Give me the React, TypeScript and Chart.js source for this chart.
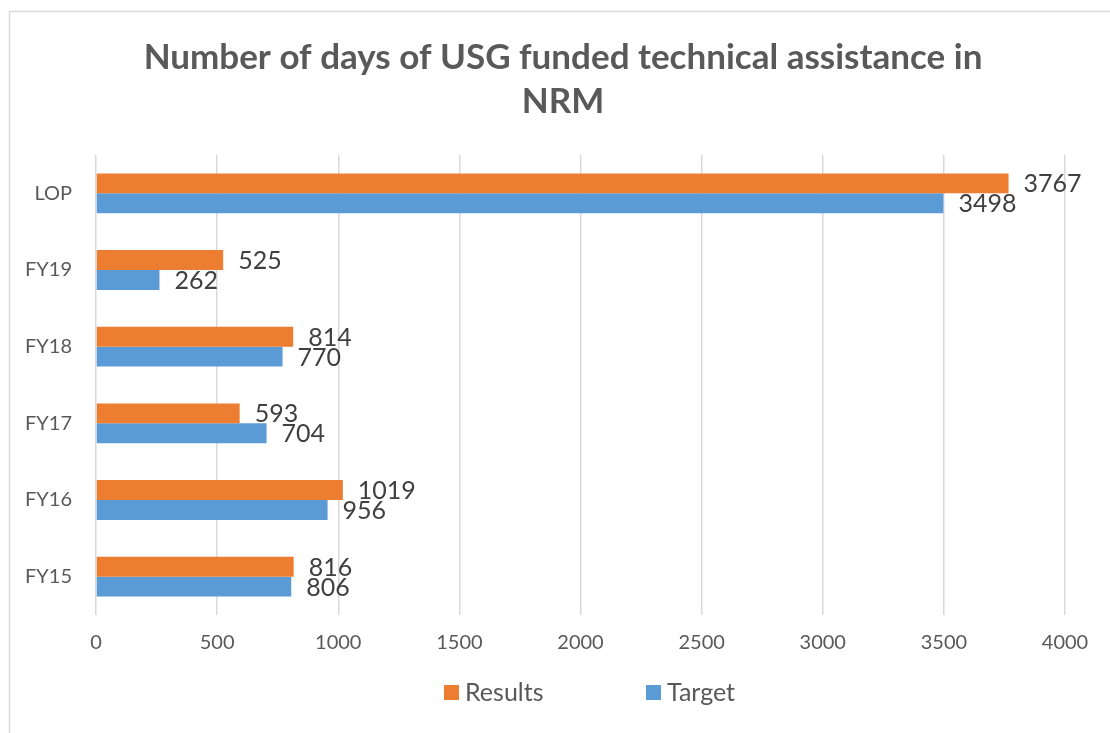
import React, { useEffect, useRef } from "react";
import { Chart, registerables } from "chart.js";

Chart.register(...registerables);

const categories = ["LOP", "FY19", "FY18", "FY17", "FY16", "FY15"];
const resultsValues = [3767, 525, 814, 593, 1019, 816];
const targetValues = [3498, 262, 770, 704, 956, 806];
const seriesNames = ["Results", "Target"];
const seriesColors = ["#ED7D31", "#5B9BD5"];
const titleLines = ["Number of days of USG funded technical assistance in", "NRM"];
const xMin = 0;
const xMax = 4000;
const xStep = 500;

const FONT = "Lato, 'Open Sans', 'DejaVu Sans', sans-serif";

const decorPlugin = {
  id: "decor",
  beforeDraw(chart: any) {
    const { ctx, width, height } = chart;
    ctx.save();
    ctx.fillStyle = "#ffffff";
    ctx.fillRect(0, 0, width, height);
    ctx.strokeStyle = "#d9d9d9";
    ctx.lineWidth = 1.5;
    ctx.beginPath();
    ctx.moveTo(9.5, height);
    ctx.lineTo(9.5, 11.5);
    ctx.lineTo(width, 11.5);
    ctx.stroke();
    ctx.restore();
  },
  afterDraw(chart: any) {
    const { ctx } = chart;
    ctx.save();
    // title
    ctx.fillStyle = "#595959";
    ctx.font = `bold 35px ${FONT}`;
    ctx.textAlign = "center";
    ctx.textBaseline = "middle";
    titleLines.forEach((line, i) => ctx.fillText(line, 563, 58 + i * 44));
    // legend
    ctx.font = `25px ${FONT}`;
    ctx.textAlign = "left";
    const legendX = [444, 646];
    seriesNames.forEach((name, i) => {
      ctx.fillStyle = seriesColors[i];
      ctx.fillRect(legendX[i], 685, 15, 15);
      ctx.fillStyle = "#595959";
      ctx.fillText(name, legendX[i] + 21, 693);
    });
    ctx.restore();
  },
  afterDatasetsDraw(chart: any) {
    const { ctx } = chart;
    ctx.save();
    ctx.fillStyle = "#404040";
    ctx.font = `25px ${FONT}`;
    ctx.textAlign = "left";
    ctx.textBaseline = "middle";
    chart.data.datasets.forEach((ds: any, di: number) => {
      const meta = chart.getDatasetMeta(di);
      meta.data.forEach((el: any, i: number) => {
        ctx.fillText(String(ds.data[i]), el.x + 15, el.y + 1);
      });
    });
    ctx.restore();
  },
};

export default function App() {
  const ref = useRef<HTMLCanvasElement | null>(null);
  useEffect(() => {
    if (!ref.current) return;
    const chart = new Chart(ref.current, {
      type: "bar",
      data: {
        labels: categories,
        datasets: [
          {
            label: seriesNames[0],
            data: resultsValues,
            backgroundColor: seriesColors[0],
            borderWidth: 0,
            barPercentage: 1,
            categoryPercentage: 0.52,
          },
          {
            label: seriesNames[1],
            data: targetValues,
            backgroundColor: seriesColors[1],
            borderWidth: 0,
            barPercentage: 1,
            categoryPercentage: 0.52,
          },
        ],
      },
      options: {
        indexAxis: "y",
        animation: false,
        responsive: false,
        maintainAspectRatio: false,
        layout: { padding: { top: 155, right: 45, left: 0, bottom: 0 } },
        plugins: {
          legend: { display: false },
          title: { display: false },
          tooltip: { enabled: false },
        },
        scales: {
          x: {
            min: xMin,
            max: xMax,
            ticks: {
              stepSize: xStep,
              color: "#595959",
              font: { family: FONT, size: 20 },
              padding: 16,
              callback: (v: any) => String(v),
            },
            grid: { color: "#d9d9d9", lineWidth: 1.5, drawTicks: false },
            border: { display: false },
            afterFit: (scale: any) => {
              scale.height = 118;
            },
          },
          y: {
            ticks: {
              color: "#595959",
              font: { family: FONT, size: 20 },
              padding: 24,
            },
            grid: { display: false, drawTicks: false },
            border: { display: false },
            afterFit: (scale: any) => {
              scale.width = 96;
            },
          },
        },
      },
      plugins: [decorPlugin],
    });
    return () => chart.destroy();
  }, []);
  return (
    <div style={{ position: "absolute", left: 0, top: 0, width: 1110, height: 733 }}>
      <canvas ref={ref} width={1110} height={733} style={{ display: "block" }} />
    </div>
  );
}
